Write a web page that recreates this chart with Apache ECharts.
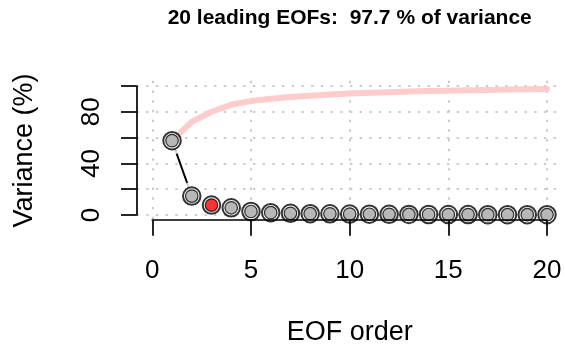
<!DOCTYPE html>
<html><head><meta charset="utf-8">
<script src="https://cdn.jsdelivr.net/npm/echarts@6/dist/echarts.min.js"></script>
<style>html,body{margin:0;padding:0;background:#fff}#c{width:565px;height:350px}</style>
</head><body><div id="c"></div>
<script>
// ---- data ----
const eofOrder = [1, 2, 3, 4, 5, 6, 7, 8, 9, 10, 11, 12, 13, 14, 15, 16, 17, 18, 19, 20];
const variancePct = [57.6, 14.7, 7.7, 5.6, 2.7, 1.8, 1.3, 1.05, 0.9, 0.75, 0.6, 0.5, 0.45, 0.4, 0.35, 0.3, 0.27, 0.26, 0.24, 0.22];
const cumulativePct = [57.6, 72.3, 80.0, 85.6, 88.3, 90.1, 91.4, 92.45, 93.35, 94.1, 94.7, 95.2, 95.65, 96.05, 96.4, 96.7, 96.97, 97.23, 97.47, 97.69];
const highlightOrder = 3;
const xTickLabels = [0, 5, 10, 15, 20];
const yTickLabels = [0, 40, 80];
const titleText = '20 leading EOFs:  97.7 % of variance';
const xName = 'EOF order';
const yName = 'Variance (%)';

const FONT = '"Liberation Sans", Arial, Helvetica, sans-serif';
const pts = eofOrder.map((x, i) => [x, variancePct[i]]);
const cum = eofOrder.map((x, i) => [x, cumulativePct[i]]);
const inner = pts.map((p) => ({
  value: p,
  itemStyle: { color: p[0] === highlightOrder ? '#ff0000' : '#a6a6a6' }
}));

const chart = echarts.init(document.getElementById('c'), null, { renderer: 'canvas' });
const gridDot = { color: '#cccccc', width: 2, type: [2.4, 7.3] };
chart.setOption({
  animation: false,
  backgroundColor: '#ffffff',
  graphic: [{
    type: 'text', x: 349.7, y: 18.5, z: 20,
    style: {
      text: titleText, font: 'bold 21px ' + FONT, fill: '#000',
      textAlign: 'center', textVerticalAlign: 'middle', align: 'center', verticalAlign: 'middle'
    }
  }],
  grid: [
    { left: 152.3, right: 18, top: 86, bottom: 135, containLabel: false },
    { left: 136.5, right: 2.1, top: 80.84, bottom: 129.84, containLabel: false }
  ],
  xAxis: [
    {
      gridIndex: 0, type: 'value', min: xTickLabels[0], max: xTickLabels[xTickLabels.length - 1], interval: 5,
      offset: 5.2, z: 8,
      axisLine: { show: true, onZero: false, lineStyle: { color: '#000', width: 1.7 } },
      axisTick: { show: true, length: 15.5, lineStyle: { color: '#000', width: 1.7 } },
      axisLabel: {
        fontSize: 26, fontFamily: FONT, color: '#000', margin: 38, lineHeight: 26,
        formatter: (v) => (xTickLabels.indexOf(v) >= 0 ? String(v) : '')
      },
      splitLine: { show: false },
      name: xName, nameLocation: 'middle', nameGap: 99,
      nameTextStyle: { fontSize: 27, fontFamily: FONT, color: '#000', lineHeight: 27 }
    },
    {
      gridIndex: 1, type: 'value', min: -0.8, max: 20.8, splitNumber: 5, z: 4,
      axisLine: { show: false }, axisTick: { show: false }, axisLabel: { show: false },
      splitLine: { show: true, showMinLine: false, showMaxLine: false, lineStyle: gridDot }
    }
  ],
  yAxis: [
    {
      gridIndex: 0, type: 'value', min: 0, max: 100, interval: 20,
      offset: 15.8, z: 8,
      axisLine: { show: true, onZero: false, lineStyle: { color: '#000', width: 1.7 } },
      axisTick: { show: true, length: 15.5, lineStyle: { color: '#000', width: 1.7 } },
      axisLabel: {
        rotate: 90, fontSize: 26, fontFamily: FONT, color: '#000', margin: 32, lineHeight: 26,
        formatter: (v) => (yTickLabels.indexOf(v) >= 0 ? String(v) : '')
      },
      splitLine: { show: false },
      name: yName, nameLocation: 'middle', nameRotate: 90, nameGap: 98,
      nameTextStyle: { fontSize: 27, fontFamily: FONT, color: '#000', lineHeight: 27 }
    },
    {
      gridIndex: 1, type: 'value', min: -4, max: 104, splitNumber: 5, z: 4,
      axisLine: { show: false }, axisTick: { show: false }, axisLabel: { show: false },
      splitLine: { show: true, showMinLine: false, showMaxLine: false, lineStyle: gridDot }
    }
  ],
  series: [
    {
      type: 'line', xAxisIndex: 0, yAxisIndex: 0, data: pts, z: 2, clip: false,
      symbol: 'none', lineStyle: { color: '#000', width: 2 }, silent: true
    },
    {
      type: 'scatter', xAxisIndex: 0, yAxisIndex: 0, data: pts, z: 3, clip: false,
      symbol: 'circle', symbolSize: 28, itemStyle: { color: '#ffffff', borderWidth: 0 }, silent: true
    },
    {
      type: 'line', xAxisIndex: 0, yAxisIndex: 0, data: cum, z: 5, clip: false,
      symbol: 'none', lineStyle: { color: '#ffcccc', width: 6, cap: 'round', join: 'round' }, silent: true
    },
    {
      type: 'scatter', xAxisIndex: 0, yAxisIndex: 0, data: pts, z: 6, clip: false,
      symbol: 'circle', symbolSize: 17.5,
      itemStyle: { color: '#ffffff', borderColor: '#000', borderWidth: 2 }, silent: true
    },
    {
      type: 'scatter', xAxisIndex: 0, yAxisIndex: 0, data: inner, z: 7, clip: false,
      symbol: 'circle', symbolSize: 12.5,
      itemStyle: { borderColor: '#000', borderWidth: 1.2 }, silent: true
    }
  ]
});
</script>
</body></html>
